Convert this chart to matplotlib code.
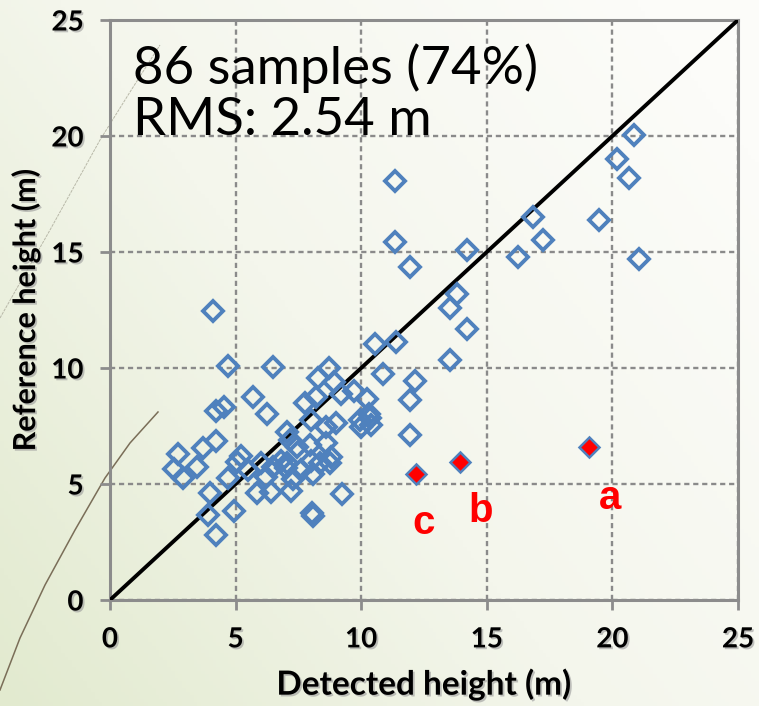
import numpy as np
import matplotlib
matplotlib.use("Agg")
import matplotlib.pyplot as plt
import matplotlib.patheffects as pe
from matplotlib.colors import LinearSegmentedColormap

# ---------------- data ----------------
detected = [
    4.1, 11.35, 11.35, 11.95, 14.2, 13.8, 13.55, 14.2, 11.4, 10.55,
    13.55, 10.85, 12.15, 11.95, 11.95, 16.85, 17.25, 16.25, 19.45, 20.2,
    20.65, 20.85, 21.05,
    4.7, 6.5, 5.7, 6.25, 4.2, 4.55, 4.2, 3.7, 2.7, 2.55,
    2.9, 3.45, 4.0, 3.9, 4.2, 4.95, 4.7, 5.05, 5.2, 5.85,
    6.4, 6.0, 6.5, 7.05, 7.2, 8.05, 9.25, 8.1, 8.75, 7.0,
    8.7, 8.3, 8.9, 9.2, 9.7, 10.25, 7.75, 8.2, 8.0, 8.6,
    9.0, 9.95, 10.35, 10.4, 10.0, 7.05, 7.15, 7.45, 8.6, 8.8,
    8.0, 7.6, 8.35, 8.1, 7.95, 6.8, 7.3, 6.2, 5.5, 10.3,
]
reference = [
    12.45, 18.05, 15.45, 14.35, 15.1, 13.2, 12.6, 11.7, 11.1, 11.05,
    10.35, 9.75, 9.45, 8.6, 7.1, 16.5, 15.5, 14.8, 16.4, 19.0,
    18.2, 20.05, 14.7,
    10.1, 10.05, 8.75, 8.0, 8.15, 8.3, 6.85, 6.55, 6.3, 5.65,
    5.25, 5.75, 4.6, 3.65, 2.8, 3.85, 5.25, 5.95, 6.2, 4.6,
    4.65, 5.9, 5.75, 5.9, 4.7, 3.75, 4.55, 3.6, 5.9, 5.7,
    10.0, 9.55, 9.4, 8.9, 9.0, 8.65, 8.5, 8.75, 7.75, 7.45,
    7.65, 7.75, 7.85, 7.55, 7.45, 7.25, 6.9, 6.6, 6.75, 6.15,
    6.0, 5.6, 5.9, 5.45, 6.7, 6.0, 5.2, 5.3, 5.6, 8.0,
]
outlier_labels = ["a", "b", "c"]
outlier_detected = [19.05, 13.95, 12.2]
outlier_reference = [6.6, 5.95, 5.45]
label_detected = [19.9, 14.75, 12.5]
label_reference = [4.4, 3.85, 3.3]

ticks = [0, 5, 10, 15, 20, 25]
annotation = "86 samples (74%)\nRMS: 2.54 m"

# ---------------- figure ----------------
W, H = 759, 706
fig = plt.figure(figsize=(W / 100, H / 100), dpi=100)

# background gradient (slide)
bg = fig.add_axes([0, 0, 1, 1], zorder=-10)
xx, yy = np.meshgrid(np.linspace(0, 1, 200), np.linspace(0, 1, 200))
t = np.clip(0.65 * xx + 0.45 * (1 - yy), 0, 1)
cmap = LinearSegmentedColormap.from_list("bg", ["#E2EACF", "#F4F6EC", "#FCFCF9"])
bg.imshow(t, cmap=cmap, extent=[0, W, H, 0], aspect="auto", vmin=0, vmax=1)
# decorative slide curves
cx = np.array([0, 20, 45, 75, 105, 130, 158])
cy = np.array([690, 638, 585, 530, 478, 443, 412])
bg.plot(cx, cy, color="#7A6E58", lw=1.1)
gx = np.array([0, 50, 100, 130, 160])
gy = np.array([318, 230, 140, 92, 45])
bg.plot(gx, gy, color="#B8B8A8", lw=0.7, ls=(0, (3, 1)))
bg.set_xlim(0, W)
bg.set_ylim(H, 0)
bg.axis("off")

ax = fig.add_axes([110 / W, 1 - 600 / H, 628 / W, 580 / H])
ax.patch.set_alpha(0)
ax.set_xlim(0, 25)
ax.set_ylim(0, 25)
ax.set_xticks(ticks)
ax.set_yticks(ticks)

for s in ax.spines.values():
    s.set_color("#8C8C8C")
    s.set_linewidth(2.2)

ax.grid(True, color="#8A8A8A", lw=1.7, ls=(0, (2.2, 1.6)))
ax.set_axisbelow(True)

shadow = [pe.SimplePatchShadow(offset=(1.3, -1.3), shadow_rgbFace="#9A9A9A", alpha=0.6), pe.Normal()]
ax.tick_params(axis="both", direction="out", length=7, width=2, color="#8C8C8C",
               labelsize=20, pad=12)
for lab in ax.get_xticklabels() + ax.get_yticklabels():
    lab.set_fontfamily("Lato")
    lab.set_fontweight("bold")
    lab.set_path_effects(shadow)

# 1:1 line
ax.plot([0, 25], [0, 25], color="black", lw=2.8, zorder=3)

# samples
ax.plot(detected, reference, ls="none", marker="D", ms=10.5, mfc="none",
        mec="#4F81BD", mew=2.8, zorder=4)
ax.plot(outlier_detected, outlier_reference, ls="none", marker="D", ms=10,
        mfc="red", mec="#4F81BD", mew=1.8, zorder=5)
for lbl, x, y in zip(outlier_labels, label_detected, label_reference):
    ax.text(x, y, lbl, color="red", fontsize=29, fontweight="bold",
            family="Liberation Sans", ha="center", va="center", zorder=6)

ax.text(0.036, 0.96, annotation, transform=ax.transAxes, fontsize=38,
        family="Lato", va="top", ha="left", linespacing=1.12, zorder=6)

ax.set_xlabel("Detected height (m)", fontsize=24, fontweight="bold",
              family="Lato", labelpad=12, path_effects=shadow)
ax.set_ylabel("Reference height (m)", fontsize=22, fontweight="bold",
              family="Lato", labelpad=8, path_effects=shadow)

fig.savefig("out.png", dpi=100)
